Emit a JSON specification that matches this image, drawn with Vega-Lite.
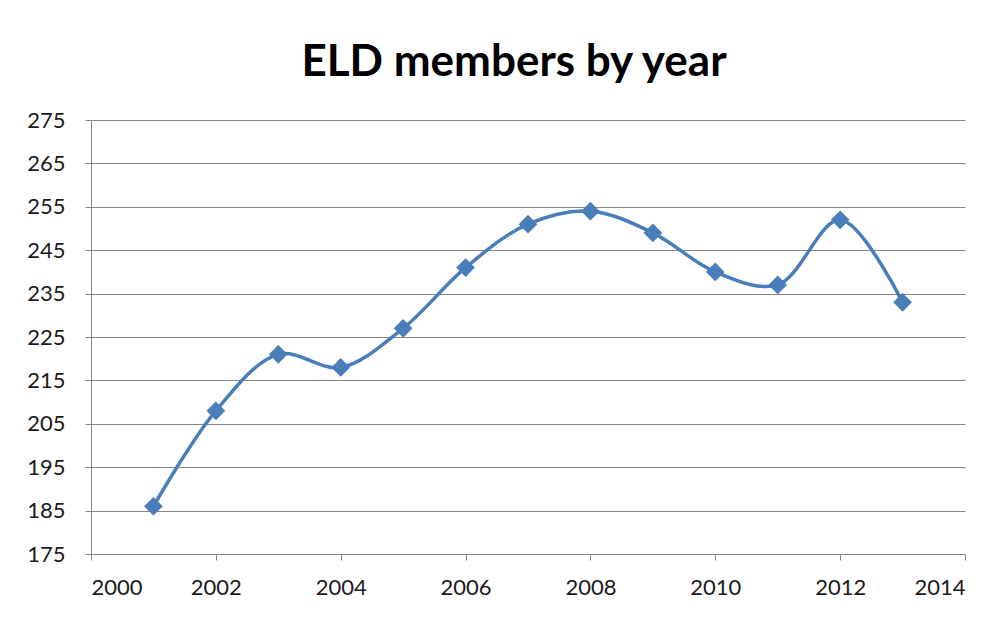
{
  "$schema": "https://vega.github.io/schema/vega-lite/v6.json",
  "autosize": {"type": "none"},
  "width": 874,
  "height": 434,
  "padding": {"left": 91, "top": 120, "right": 43, "bottom": 64},
  "background": "white",
  "title": {
    "text": "ELD members by year",
    "font": "Lato",
    "fontSize": 44,
    "fontWeight": "bold",
    "color": "#000000",
    "anchor": "middle",
    "dx": -14,
    "offset": 24
  },
  "config": {"view": {"stroke": null}},
  "data": {
    "values": [
      {"year": 2001, "members": 186},
      {"year": 2002, "members": 208},
      {"year": 2003, "members": 221},
      {"year": 2004, "members": 218},
      {"year": 2005, "members": 227},
      {"year": 2006, "members": 241},
      {"year": 2007, "members": 251},
      {"year": 2008, "members": 254},
      {"year": 2009, "members": 249},
      {"year": 2010, "members": 240},
      {"year": 2011, "members": 237},
      {"year": 2012, "members": 252},
      {"year": 2013, "members": 233}
    ]
  },
  "encoding": {
    "x": {
      "field": "year",
      "type": "quantitative",
      "scale": {"domain": [2000, 2014], "nice": false, "zero": false},
      "axis": {
        "title": null,
        "values": [2000, 2002, 2004, 2006, 2008, 2010, 2012, 2014],
        "format": "d",
        "grid": false,
        "domainColor": "#868686",
        "tickColor": "#868686",
        "tickSize": 6,
        "labelFont": "Lato",
        "labelFontSize": 22,
        "labelColor": "#1a1a1a",
        "labelPadding": 17
      }
    },
    "y": {
      "field": "members",
      "type": "quantitative",
      "scale": {"domain": [175, 275], "nice": false, "zero": false},
      "axis": {
        "title": null,
        "values": [175, 185, 195, 205, 215, 225, 235, 245, 255, 265, 275],
        "grid": true,
        "gridColor": "#868686",
        "gridWidth": 1,
        "domainColor": "#868686",
        "tickColor": "#868686",
        "tickSize": 6,
        "labelFont": "Lato",
        "labelFontSize": 22,
        "labelColor": "#1a1a1a",
        "labelPadding": 20
      }
    }
  },
  "layer": [
    {
      "mark": {"type": "line", "interpolate": "catmull-rom", "color": "#4A7EBB", "strokeWidth": 3.5}
    },
    {
      "mark": {"type": "point", "shape": "diamond", "filled": true, "color": "#4A7EBB", "size": 350, "opacity": 1}
    }
  ]
}
